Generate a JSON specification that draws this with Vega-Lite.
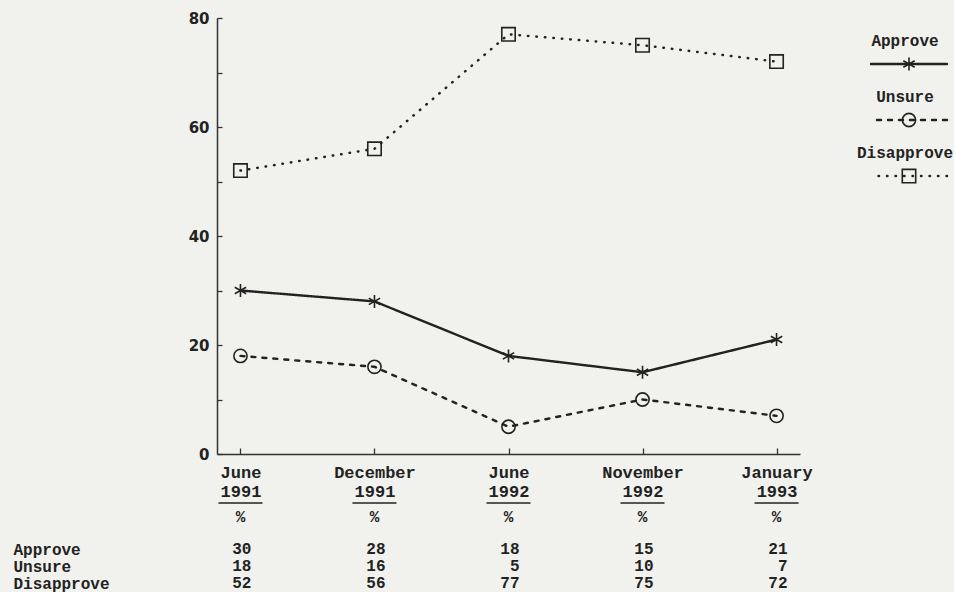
{
  "$schema": "https://vega.github.io/schema/vega-lite/v6.json",
  "background": "#f1f2ee",
  "padding": {"left": 13, "top": 11, "right": 0, "bottom": 4},
  "datasets": {
    "poll": [
      {"period": "June 1991", "series": "Approve", "value": 30},
      {"period": "December 1991", "series": "Approve", "value": 28},
      {"period": "June 1992", "series": "Approve", "value": 18},
      {"period": "November 1992", "series": "Approve", "value": 15},
      {"period": "January 1993", "series": "Approve", "value": 21},
      {"period": "June 1991", "series": "Unsure", "value": 18},
      {"period": "December 1991", "series": "Unsure", "value": 16},
      {"period": "June 1992", "series": "Unsure", "value": 5},
      {"period": "November 1992", "series": "Unsure", "value": 10},
      {"period": "January 1993", "series": "Unsure", "value": 7},
      {"period": "June 1991", "series": "Disapprove", "value": 52},
      {"period": "December 1991", "series": "Disapprove", "value": 56},
      {"period": "June 1992", "series": "Disapprove", "value": 77},
      {"period": "November 1992", "series": "Disapprove", "value": 75},
      {"period": "January 1993", "series": "Disapprove", "value": 72}
    ],
    "series": [
      {"series": "Approve"},
      {"series": "Unsure"},
      {"series": "Disapprove"}
    ]
  },
  "config": {
    "view": {"stroke": null},
    "font": "Liberation Mono"
  },
  "spacing": 43,
  "hconcat": [
    {
      "spacing": 3,
      "vconcat": [
        {
          "width": 583,
          "height": 436,
          "data": {"name": "poll"},
          "encoding": {
            "x": {
              "field": "period",
              "type": "ordinal",
              "sort": ["June 1991", "December 1991", "June 1992", "November 1992", "January 1993"],
              "scale": {"type": "point", "padding": 0.175},
              "axis": {
                "title": null,
                "labelAngle": 0,
                "labelExpr": "split(datum.label, ' ')",
                "labelFont": "Liberation Mono",
                "labelFontWeight": "bold",
                "labelFontSize": 17,
                "labelLineHeight": 19,
                "labelColor": "#222",
                "labelBaseline": "top",
                "tickSize": -6,
                "tickColor": "#333",
                "tickWidth": 1.3,
                "domainColor": "#333",
                "domainWidth": 1.5,
                "labelPadding": 16
              }
            },
            "y": {
              "field": "value",
              "type": "quantitative",
              "scale": {"domain": [0, 80], "nice": false},
              "axis": {
                "title": null,
                "grid": false,
                "values": [0, 10, 20, 30, 40, 50, 60, 70, 80],
                "labelExpr": "datum.value % 20 == 0 ? datum.label : ''",
                "labelFont": "DejaVu Sans",
                "labelFontWeight": "bold",
                "labelFontSize": 15,
                "labelColor": "#222",
                "tickSize": -5,
                "tickColor": "#333",
                "tickWidth": 1.3,
                "domainColor": "#333",
                "domainWidth": 1.5,
                "labelPadding": 13
              }
            }
          },
          "layer": [
            {
              "mark": {"type": "line", "color": "#222", "strokeCap": "round"},
              "encoding": {
                "strokeDash": {
                  "field": "series",
                  "type": "nominal",
                  "scale": {"domain": ["Approve", "Unsure", "Disapprove"], "range": [[1, 0], [4, 7], [0.5, 8]]},
                  "legend": null
                },
                "strokeWidth": {
                  "field": "series",
                  "type": "nominal",
                  "scale": {"domain": ["Approve", "Unsure", "Disapprove"], "range": [2.4, 2.5, 3]},
                  "legend": null
                }
              }
            },
            {
              "mark": {"type": "point", "filled": false, "color": "#222", "strokeWidth": 1.6, "opacity": 1},
              "encoding": {
                "shape": {
                  "field": "series",
                  "type": "nominal",
                  "scale": {"domain": ["Approve", "Unsure", "Disapprove"], "range": ["M0,-1L0,1M-0.87,-0.5L0.87,0.5M-0.87,0.5L0.87,-0.5", "circle", "square"]},
                  "legend": null
                },
                "size": {
                  "field": "series",
                  "type": "nominal",
                  "scale": {"domain": ["Approve", "Unsure", "Disapprove"], "range": [170, 180, 200]},
                  "legend": null
                }
              }
            }
          ]
        },
        {
          "width": 583,
          "height": 34,
          "data": {"name": "poll"},
          "encoding": {
            "x": {
              "field": "period",
              "type": "ordinal",
              "sort": ["June 1991", "December 1991", "June 1992", "November 1992", "January 1993"],
              "scale": {"type": "point", "padding": 0.175},
              "axis": null
            },
            "y": {
              "field": "series",
              "type": "nominal",
              "sort": ["Approve", "Unsure", "Disapprove"],
              "scale": {"type": "point", "padding": 0},
              "axis": {
                "title": null,
                "domain": false,
                "ticks": false,
                "labelAlign": "left",
                "labelPadding": 204,
                "labelFont": "Liberation Mono",
                "labelFontWeight": "bold",
                "labelFontSize": 16,
                "labelColor": "#222"
              }
            }
          },
          "layer": [
            {
              "mark": {"type": "text", "align": "right", "dx": 11, "font": "Liberation Mono", "fontWeight": "bold", "fontSize": 16, "color": "#222"},
              "encoding": {"text": {"field": "value", "type": "quantitative"}}
            },
            {
              "transform": [{"filter": "datum.series == 'Approve'"}],
              "mark": {"type": "text", "text": "%", "dy": -32, "font": "Liberation Mono", "fontWeight": "bold", "fontSize": 16, "color": "#222"}
            },
            {
              "transform": [{"filter": "datum.series == 'Approve'"}],
              "mark": {"type": "tick", "orient": "horizontal", "size": 44, "thickness": 1.5, "yOffset": -46, "color": "#222", "opacity": 1}
            }
          ]
        }
      ]
    },
    {
      "width": 76,
      "height": 204,
      "data": {"name": "series"},
      "encoding": {
        "y": {
          "field": "series",
          "type": "nominal",
          "sort": ["Approve", "Unsure", "Disapprove"],
          "scale": {"type": "point", "padding": 0.82},
          "axis": null
        }
      },
      "layer": [
        {
          "mark": {"type": "rule", "color": "#222", "strokeCap": "round"},
          "encoding": {
            "strokeDash": {
              "field": "series",
              "type": "nominal",
              "scale": {"domain": ["Approve", "Unsure", "Disapprove"], "range": [[1, 0], [4, 7], [0.5, 8]]},
              "legend": null
            },
            "strokeWidth": {
              "field": "series",
              "type": "nominal",
              "scale": {"domain": ["Approve", "Unsure", "Disapprove"], "range": [2.4, 2.5, 3]},
              "legend": null
            }
          }
        },
        {
          "mark": {"type": "point", "filled": false, "color": "#222", "strokeWidth": 1.6, "opacity": 1},
          "encoding": {
            "shape": {
              "field": "series",
              "type": "nominal",
              "scale": {"domain": ["Approve", "Unsure", "Disapprove"], "range": ["M0,-1L0,1M-0.87,-0.5L0.87,0.5M-0.87,0.5L0.87,-0.5", "circle", "square"]},
              "legend": null
            },
            "size": {
              "field": "series",
              "type": "nominal",
              "scale": {"domain": ["Approve", "Unsure", "Disapprove"], "range": [170, 180, 200]},
              "legend": null
            }
          }
        },
        {
          "mark": {"type": "text", "dy": -23, "dx": -4, "font": "Liberation Mono", "fontWeight": "bold", "fontSize": 16, "color": "#222"},
          "encoding": {"text": {"field": "series", "type": "nominal"}}
        }
      ]
    }
  ]
}
